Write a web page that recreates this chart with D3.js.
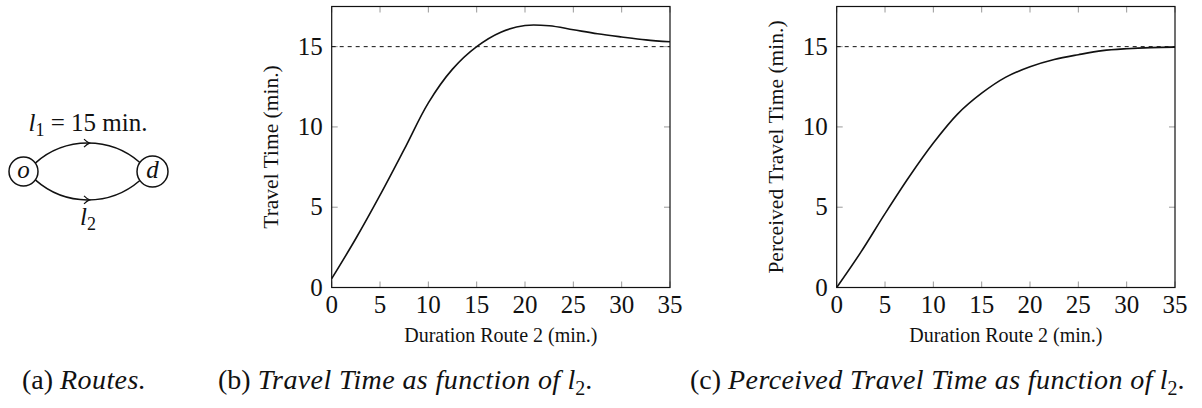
<!DOCTYPE html>
<html>
<head>
<meta charset="utf-8">
<script src="https://cdn.jsdelivr.net/npm/d3@7"></script>
<style>
  html, body { margin: 0; padding: 0; background: #fff; }
  svg { display: block; }
</style>
</head>
<body>
<svg id="fig" width="1202" height="408"></svg>
<script>
/* ---------- data ---------- */
const durations = [0, 2.5, 5, 7.5, 10, 12.5, 15, 17.5, 20, 22.5, 25, 27.5, 30, 32.5, 35];
const travelTime = [0.55, 3.05, 5.75, 8.6, 11.5, 13.6, 15.0, 15.9, 16.32, 16.3, 16.05, 15.8, 15.6, 15.42, 15.3];
const perceivedTime = [0, 2.2, 4.6, 6.9, 9.0, 10.8, 12.1, 13.1, 13.75, 14.2, 14.5, 14.75, 14.87, 14.94, 14.97];
const route1 = 15;
const xTicks = [0, 5, 10, 15, 20, 25, 30, 35];
const yTicks = [0, 5, 10, 15];

/* route diagram: nodes and edges */
const nodes = [
  { id: 'o', x: 23.5, y: 171.5, r: 14.5 },
  { id: 'd', x: 152.5, y: 171.5, r: 15.5 }
];
const edges = [
  { bend: -1, label: 'l', sub: '1', rest: ' = 15 min.' },
  { bend: 1, label: 'l', sub: '2', rest: '' }
];

const FONT = "'Liberation Serif', Tinos, 'Times New Roman', 'DejaVu Serif', serif";
const svg = d3.select('#fig')
  .attr('font-family', FONT)
  .style('font-family', FONT);

/* ---------- (a) routes diagram ---------- */
function drawRoutes() {
  const g = svg.append('g');
  const [o, d] = nodes;
  const midX = (o.x + d.x) / 2;

  edges.forEach(e => {
    const ang = e.bend * 0.62;
    const sx = o.x + o.r * Math.cos(ang), sy = o.y + o.r * Math.sin(ang);
    const ex = d.x - d.r * Math.cos(ang), ey = d.y + d.r * Math.sin(ang);
    const cy = o.y + e.bend * 35;
    const path = d3.path();
    path.moveTo(sx, sy);
    path.bezierCurveTo(sx + 30, cy, ex - 30, cy, ex, ey);
    g.append('path').attr('d', path.toString())
      .attr('fill', 'none').attr('stroke', '#111').attr('stroke-width', 1.5);

    // arrow tip at the apex
    const ay = 0.125 * sy + 0.75 * cy + 0.125 * ey;
    g.append('path')
      .attr('d', `M${midX - 4},${ay - 4} Q${midX - 1},${ay - 1} ${midX + 1.5},${ay} Q${midX - 1},${ay + 1} ${midX - 4},${ay + 4}`)
      .attr('fill', 'none').attr('stroke', '#111').attr('stroke-width', 1.2);

    const t = g.append('text')
      .attr('x', midX).attr('y', e.bend < 0 ? ay - 12 : ay + 25)
      .attr('text-anchor', 'middle').attr('fill', '#111').style('font-size', '25px');
    t.append('tspan').style('font-style', 'italic').text(e.label);
    t.append('tspan').attr('dy', 5).style('font-size', '18px').text(e.sub);
    if (e.rest) t.append('tspan').attr('dy', -5).text(e.rest);
  });

  nodes.forEach(n => {
    g.append('circle').attr('cx', n.x).attr('cy', n.y).attr('r', n.r)
      .attr('fill', '#fff').attr('stroke', '#111').attr('stroke-width', 1.5);
    g.append('text').attr('x', n.x).attr('y', n.y + 6)
      .attr('text-anchor', 'middle').attr('fill', '#111')
      .style('font-size', '25px').style('font-style', 'italic')
      .text(n.id);
  });
}

/* ---------- (b), (c) plots ---------- */
function drawPlot(left, right, values, yLabel) {
  const top = 6.5, bottom = 287.5;
  const x = d3.scaleLinear().domain([0, 35]).range([left, right]);
  const y = d3.scaleLinear().domain([0, 17.5]).range([bottom, top]);
  const g = svg.append('g');
  const tickLen = 6;

  // inner ticks, all four sides
  const tg = g.append('g').attr('stroke', '#999').attr('stroke-width', 1);
  xTicks.forEach(t => {
    tg.append('line').attr('x1', x(t)).attr('x2', x(t)).attr('y1', bottom).attr('y2', bottom - tickLen);
    tg.append('line').attr('x1', x(t)).attr('x2', x(t)).attr('y1', top).attr('y2', top + tickLen);
  });
  yTicks.forEach(t => {
    tg.append('line').attr('y1', y(t)).attr('y2', y(t)).attr('x1', left).attr('x2', left + tickLen);
    tg.append('line').attr('y1', y(t)).attr('y2', y(t)).attr('x1', right).attr('x2', right - tickLen);
  });

  // reference line l1
  g.append('line')
    .attr('x1', x(0)).attr('x2', x(35)).attr('y1', y(route1)).attr('y2', y(route1))
    .attr('stroke', '#111').attr('stroke-width', 1).attr('stroke-dasharray', '4,4');

  // curve
  const line = d3.line()
    .x((d, i) => x(durations[i]))
    .y(d => y(d))
    .curve(d3.curveCatmullRom.alpha(0.5));
  g.append('path').datum(values).attr('d', line)
    .attr('fill', 'none').attr('stroke', '#111').attr('stroke-width', 1.6);

  // frame
  g.append('rect')
    .attr('x', left).attr('y', top).attr('width', right - left).attr('height', bottom - top)
    .attr('fill', 'none').attr('stroke', '#111').attr('stroke-width', 1.2);

  // tick labels
  xTicks.forEach(t => {
    g.append('text').attr('x', x(t)).attr('y', bottom + 25)
      .attr('text-anchor', 'middle').attr('fill', '#111').style('font-size', '25px').text(t);
  });
  yTicks.forEach(t => {
    g.append('text').attr('x', left - 9).attr('y', y(t) + 8)
      .attr('text-anchor', 'end').attr('fill', '#111').style('font-size', '25px').text(t);
  });

  // axis labels
  g.append('text').attr('x', (left + right) / 2).attr('y', 342)
    .attr('text-anchor', 'middle').attr('fill', '#111').style('font-size', '20px')
    .text('Duration Route 2 (min.)');
  g.append('text')
    .attr('transform', `translate(${left - 54},${(top + bottom) / 2}) rotate(-90)`)
    .attr('text-anchor', 'middle').attr('fill', '#111').style('font-size', '21.5px').text(yLabel);
}

/* ---------- captions ---------- */
function caption(xPos, tag, italic, withL2) {
  const t = svg.append('text').attr('x', xPos).attr('y', 389)
    .attr('fill', '#111').style('font-size', '28px');
  t.append('tspan').text(tag + ' ');
  t.append('tspan').style('font-style', 'italic').style('letter-spacing', '0.4px').text(italic);
  if (withL2) {
    t.append('tspan').style('font-style', 'italic').text(' l');
    t.append('tspan').attr('dy', 6).style('font-size', '20px').text('2');
    t.append('tspan').attr('dy', -6).text('.');
  }
}

drawRoutes();
drawPlot(331.7, 670, travelTime, 'Travel Time (min.)');
drawPlot(836.7, 1175, perceivedTime, 'Perceived Travel Time (min.)');
caption(22, '(a)', 'Routes.', false);
caption(218, '(b)', 'Travel Time as function of', true);
caption(690, '(c)', 'Perceived Travel Time as function of', true);
</script>
</body>
</html>
